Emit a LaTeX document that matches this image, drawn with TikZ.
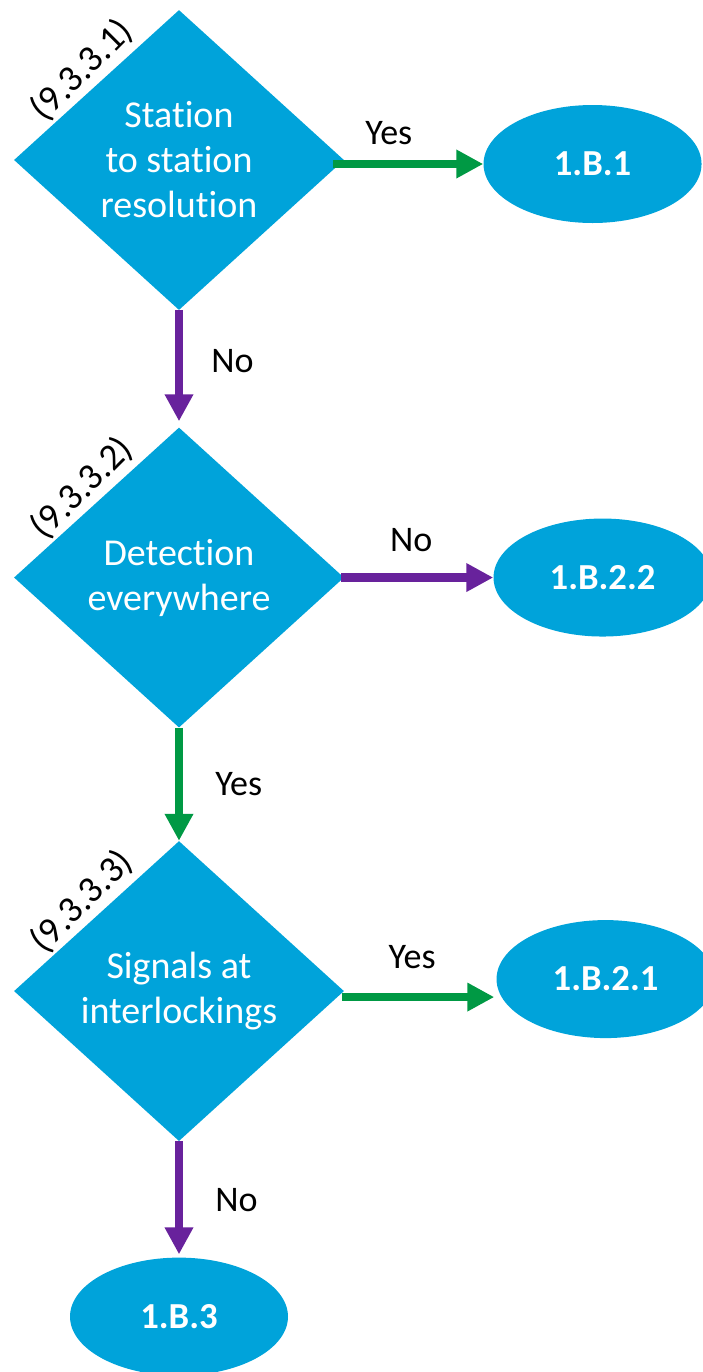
\documentclass[tikz,border=0pt]{standalone}
\usepackage{fontspec}
\setmainfont{Carlito}[Ligatures=NoCommon]
\usetikzlibrary{arrows.meta,positioning,shapes.geometric}

\newlength\px
\setlength\px{0.75pt}
\definecolor{flowblue}{RGB}{0,163,218}
\definecolor{flowgreen}{RGB}{0,153,68}
\definecolor{flowpurple}{RGB}{104,34,156}

\begin{document}
\begin{tikzpicture}[x=0.75pt, y=-0.75pt,
node distance = 116\px and 145\px,
decision/.style = {diamond, fill=flowblue, text=white, inner sep=0pt,
                   minimum width=330\px, minimum height=300\px, align=center,
                   font=\fontsize{28.5}{33.75}\selectfont},
result/.style   = {ellipse, fill=flowblue, text=white, inner sep=0pt,
                   minimum width=218\px, minimum height=118\px,
                   font=\bfseries\fontsize{27.5}{32}\selectfont},
secnum/.style   = {rotate=45, anchor=south, inner sep=4\px,
                   font=\fontsize{28}{32}\selectfont},
lbl/.style      = {inner sep=0pt, font=\fontsize{27}{31}\selectfont},
flow/.style     = {line width=6.4pt, -{Triangle[length=20.25pt,width=20.25pt]}},
yesarrow/.style = {flow, draw=flowgreen},
noarrow/.style  = {flow, draw=flowpurple}
                        ]
\useasboundingbox (0,0) rectangle (703,1372);

\node (d1) [decision] at (179,160) {Station\\ to station\\ resolution};
\node (d2) [decision, below=117\px of d1] {Detection\\ everywhere};
\node (d3) [decision, below=113\px of d2] {Signals at\\ interlockings};

\node (r1) [result, right=139\px of d1, yshift=-4\px] {1.B.1};
\node (r2) [result, right=149\px of d2]               {1.B.2.2};
\node (r3) [result, right=152\px of d3, yshift=12\px] {1.B.2.1};
\node (r4) [result, below=of d3]                      {1.B.3};

%
\foreach \i in {1,2,3}
\node[secnum] at (d\i.north west) {(9.3.3.\i)};

%
\draw[yesarrow] ([xshift=-11\px,yshift=-4\px]d1.east) -- node[lbl, pos=0.37, above=15\px] {Yes} (r1.west);
\draw[noarrow]  ([xshift=-3\px]d2.east) -- node[lbl, pos=0.46, above=22\px] {No} (r2.west);
\draw[yesarrow] ([xshift=-2\px,yshift=-6\px]d3.east) -- node[lbl, pos=0.46, above=24\px] {Yes} ([xshift=-2\px,yshift=-18\px]r3.west);

\draw[noarrow, shorten >=6\px]  (d1.south) -- node[lbl, pos=0.43, right=28\px] {No} (d2.north);
\draw[yesarrow] (d2.south) -- node[lbl, pos=0.5, right=32\px] {Yes} (d3.north);
\draw[noarrow, shorten >=3\px]  (d3.south) -- node[lbl, pos=0.51, right=32\px] {No} (r4.north);
\end{tikzpicture}
\end{document}
